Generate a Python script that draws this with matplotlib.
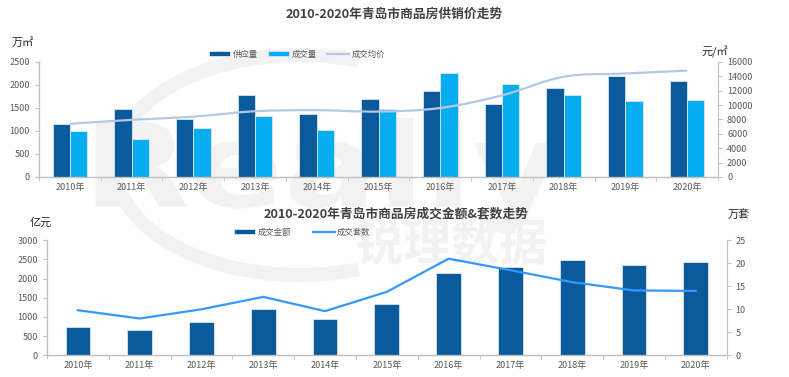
import matplotlib
matplotlib.use("Agg")
import matplotlib.pyplot as plt
import numpy as np
from matplotlib.path import Path
from matplotlib.patches import PathPatch, Arc
from matplotlib.textpath import TextPath
from matplotlib.font_manager import FontProperties

plt.rcParams['font.family'] = ['Noto Sans CJK SC', 'DejaVu Sans']

years = ["2010年", "2011年", "2012年", "2013年", "2014年", "2015年",
         "2016年", "2017年", "2018年", "2019年", "2020年"]
supply = [1160, 1480, 1265, 1780, 1365, 1705, 1880, 1590, 1945, 2205, 2080]
deal = [1010, 830, 1055, 1335, 1025, 1485, 2255, 2015, 1785, 1650, 1670]
price = [7400, 7950, 8400, 9150, 9300, 9100, 9600, 11350, 13950, 14400, 14800]
amount = [740, 650, 870, 1200, 945, 1340, 2140, 2305, 2480, 2365, 2445]
units = [9.8, 8.0, 10.0, 12.7, 9.6, 13.8, 21.0, 18.5, 15.9, 14.1, 14.0]

DARK = '#0A5A9C'
LIGHT = '#07AEEF'
PRICE_C = '#B4C7E7'
UNITS_C = '#3399FF'
SPINE = '#BFBFBF'
TXT = '#595959'
WM = '#F2F2F2'

fig = plt.figure(figsize=(7.89, 3.77), dpi=100)
W, H = 789, 377

def fx(px):
    return px / W

def fy(py):
    return 1 - py / H

# ---- watermark logo (drawn as shapes, behind everything) ----
def logo_text(s, box, family, weight='bold'):
    X0, Yt, X1, Yb = box
    tp = TextPath((0, 0), s, size=1, prop=FontProperties(family=family, weight=weight))
    v = tp.vertices.copy()
    x0, y0 = v.min(axis=0)
    x1, y1 = v.max(axis=0)
    px = X0 + (v[:, 0] - x0) / (x1 - x0) * (X1 - X0)
    py = Yb - (v[:, 1] - y0) / (y1 - y0) * (Yb - Yt)
    nv = np.column_stack([px / W, 1 - py / H])
    p = PathPatch(Path(nv, tp.codes), facecolor=WM, edgecolor='none',
                  transform=fig.transFigure, zorder=-10)
    fig.patches.append(p)

logo_text("Really", (83, 118, 560, 232), 'DejaVu Sans')
logo_text("锐理数据", (355, 218, 545, 265), 'Noto Sans CJK SC')
arc = Arc((fx(300), fy(165)), 2 * 185 / W, 2 * 110 / H, theta1=75, theta2=285,
          color=WM, lw=10, transform=fig.transFigure, zorder=-10)
fig.patches.append(arc)

def smooth_path(xs, ys):
    xs = np.asarray(xs, float); ys = np.asarray(ys, float)
    verts = [(xs[0], ys[0])]
    codes = [Path.MOVETO]
    n = len(xs)
    for i in range(n - 1):
        p0 = np.array([xs[max(i - 1, 0)], ys[max(i - 1, 0)]])
        p1 = np.array([xs[i], ys[i]])
        p2 = np.array([xs[i + 1], ys[i + 1]])
        p3 = np.array([xs[min(i + 2, n - 1)], ys[min(i + 2, n - 1)]])
        c1 = p1 + (p2 - p0) / 6
        c2 = p2 - (p3 - p1) / 6
        verts += [tuple(c1), tuple(c2), tuple(p2)]
        codes += [Path.CURVE4] * 3
    return Path(verts, codes)

def style_axes(ax, n):
    ax.spines['top'].set_visible(False)
    for s in ['left', 'bottom', 'right']:
        ax.spines[s].set_color(SPINE)
        ax.spines[s].set_linewidth(1.0)
    ax.set_xlim(-0.5, n - 0.5)
    ax.set_xticks(np.arange(n))
    ax.set_xticklabels(years, fontsize=6.5, color=TXT)
    ax.set_xticks(np.arange(n + 1) - 0.5, minor=True)
    ax.tick_params(axis='x', which='major', length=0, pad=4)
    ax.tick_params(axis='x', which='minor', length=3, color=SPINE, direction='out')
    ax.tick_params(axis='y', labelsize=6.5, labelcolor=TXT, color=SPINE, length=3, direction='out')
    ax.patch.set_alpha(0)

x = np.arange(len(years))

# ---------- top chart ----------
ax1 = fig.add_axes([fx(39), fy(177), fx(718 - 39), (177 - 62) / H])
bw = 0.28
b1 = ax1.bar(x - bw / 2, supply, bw, color=DARK, edgecolor='#DCE6F2', linewidth=0.6, label='供应量', zorder=2)
b2 = ax1.bar(x + bw / 2, deal, bw, color=LIGHT, edgecolor='#DCE6F2', linewidth=0.6, label='成交量', zorder=2)
ax1.set_ylim(0, 2500)
ax1.set_yticks(np.arange(0, 2501, 500))
style_axes(ax1, len(years))
ax1.spines['right'].set_visible(False)

ax1r = ax1.twinx()
ax1r.set_ylim(0, 16000)
ax1r.set_yticks(np.arange(0, 16001, 2000))
ax1r.add_patch(PathPatch(smooth_path(x, price), facecolor='none', edgecolor=PRICE_C, lw=1.6, zorder=3))
l1, = ax1r.plot([], [], color=PRICE_C, lw=1.6, label='成交均价')
for s in ['top', 'left', 'bottom']:
    ax1r.spines[s].set_visible(False)
ax1r.spines['right'].set_color(SPINE)
ax1r.tick_params(axis='y', labelsize=6.5, labelcolor=TXT, color=SPINE, length=3, direction='out')
ax1r.patch.set_alpha(0)

ax1.legend(handles=[b1, b2, l1], loc='lower left', bbox_to_anchor=(fx(201), fy(66)),
           bbox_transform=fig.transFigure, ncol=3, frameon=False, fontsize=6,
           handlelength=2.6, handleheight=0.5, columnspacing=1.2, handletextpad=0.3,
           labelcolor=TXT)

fig.text(0.5, fy(14), "2010-2020年青岛市商品房供销价走势", ha='center', va='center',
         fontsize=9.2, fontweight='bold', color='#404040')
fig.text(fx(12), fy(42), "万㎡", ha='left', va='center', fontsize=8, color='#262626')
fig.text(fx(701), fy(52), "元/㎡", ha='left', va='center', fontsize=8, color='#262626')

# ---------- bottom chart ----------
ax2 = fig.add_axes([fx(47), fy(355.3), fx(726.7 - 47), (355.3 - 240.3) / H])
b3 = ax2.bar(x, amount, 0.4, color=DARK, edgecolor='#DCE6F2', linewidth=0.6, label='成交金额', zorder=2)
ax2.set_ylim(0, 3000)
ax2.set_yticks(np.arange(0, 3001, 500))
style_axes(ax2, len(years))
ax2.spines['right'].set_visible(False)

ax2r = ax2.twinx()
ax2r.set_ylim(0, 25)
ax2r.set_yticks(np.arange(0, 26, 5))
l2, = ax2r.plot(x, units, color=UNITS_C, lw=1.6, label='成交套数', zorder=3)
for s in ['top', 'left', 'bottom']:
    ax2r.spines[s].set_visible(False)
ax2r.spines['right'].set_color(SPINE)
ax2r.tick_params(axis='y', labelsize=6.5, labelcolor=TXT, color=SPINE, length=3, direction='out')
ax2r.patch.set_alpha(0)

ax2.legend(handles=[b3, l2], loc='lower left', bbox_to_anchor=(fx(226), fy(244)),
           bbox_transform=fig.transFigure, ncol=2, frameon=False, fontsize=6,
           handlelength=2.6, handleheight=0.5, columnspacing=2.6, handletextpad=0.3,
           labelcolor=TXT)

fig.text(fx(396), fy(214), "2010-2020年青岛市商品房成交金额&套数走势", ha='center', va='center',
         fontsize=9.2, fontweight='bold', color='#404040')
fig.text(fx(30), fy(223), "亿元", ha='left', va='center', fontsize=8, color='#262626')
fig.text(fx(728), fy(214), "万套", ha='left', va='center', fontsize=8, color='#262626')

fig.savefig("out.png", dpi=100)
